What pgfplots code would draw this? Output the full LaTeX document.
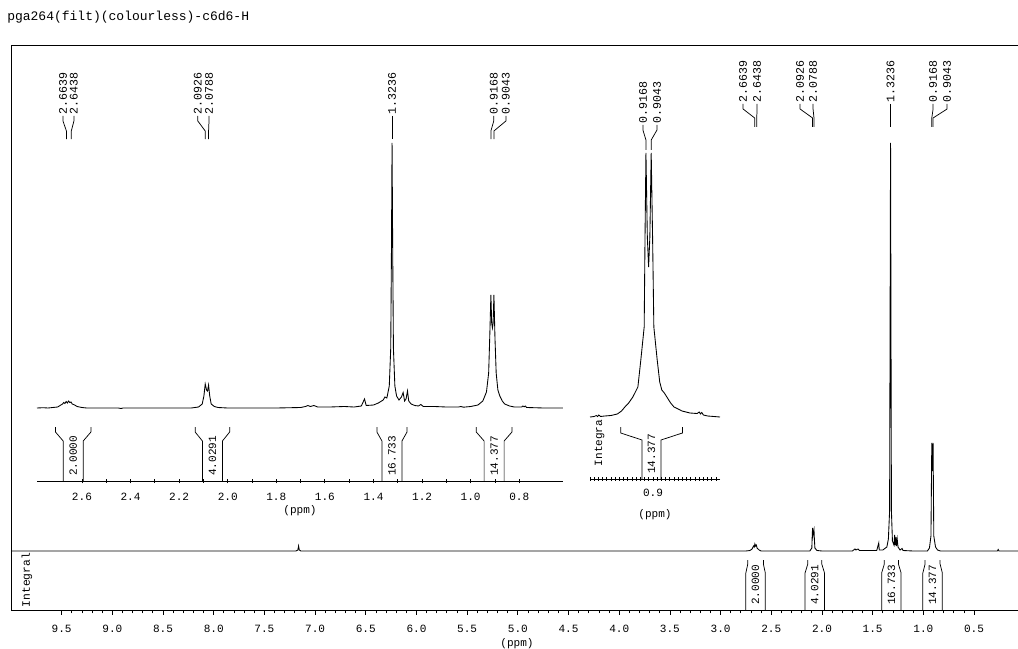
\documentclass[border=0pt]{standalone}
\usepackage{pgfplots}
\pgfplotsset{compat=1.18}
\usepackage{fontspec}
\setmainfont{Liberation Mono}

\newcommand\ttsize[1]{\fontsize{#1}{#1}\selectfont}

% integral bracket: #1,#2 integration limits (ppm), #3 centre (ppm), #4 half width of the
% label box, #5 value, #6 top, #7 end of hook, #8 end of slant, #9 base line
\newcommand\intbracket[9]{%
  \draw[line width=0.55pt] (axis cs:#1,#6) -- (axis cs:#1,#7) -- ([xshift=-#4]axis cs:#3,#8) -- ([xshift=-#4]axis cs:#3,#9);
  \draw[line width=0.55pt] (axis cs:#2,#6) -- (axis cs:#2,#7) -- ([xshift=#4]axis cs:#3,#8) -- ([xshift=#4]axis cs:#3,#9);
  \node[rotate=90, anchor=west, inner sep=0pt, font=\ttsize{8.3pt}] at ([yshift=3.75pt]axis cs:#3,#9) {#5};
}

% peak label: #1 label position, #2 peak position (ppm), #3 text, #4..#7 connector levels
\newcommand\peaklabel[7]{%
  \draw[line width=0.55pt] (axis cs:#1,#4) -- (axis cs:#1,#5) -- (axis cs:#2,#6) -- (axis cs:#2,#7);
  \node[rotate=90, anchor=west, inner sep=0.8pt, font=\ttsize{8.7pt}] at (axis cs:#1,#4) {#3};
}

\pgfplotsset{
  nmr/.style={
    scale only axis, anchor=south west, x dir=reverse, clip=false,
    tick align=outside, ytick=\empty,
    major tick length=3.4pt, minor tick length=2.6pt,
    every tick/.style={black, line width=0.6pt},
    xticklabel style={font=\ttsize{8.3pt}, /pgf/number format/.cd, fixed, fixed zerofill, precision=1, assume math mode=true},
    xlabel style={font=\ttsize{8.3pt}},
    xlabel={(ppm)},
  },
  spec/.style={black, line width=0.65pt, mark=none},
}

\begin{document}
\begin{tikzpicture}
\useasboundingbox (0,0) rectangle (763.5pt,-486.75pt);
\node[anchor=west, inner sep=0pt, font=\ttsize{9.75pt}] at (5.25pt,-12.75pt) {pga264(filt)(colourless)-c6d6-H};

% ---------------- full spectrum ----------------
\begin{axis}[nmr,
  at={(9pt,-457.5pt)}, width=757.5pt, height=423pt,
  xmin=0.027, xmax=9.99, ymin=-59, ymax=505,
  axis line style={line width=0.75pt},
  xtick={0.5,1.0,...,9.5}, minor x tick num=4, xtick pos=bottom,
  xticklabel shift=4.5pt, xlabel style={yshift=2.6pt},
]
\addplot[spec] coordinates {
  (9.99,0) (7.19,0) (7.17,1) (7.163,5) (7.156,1) (7.14,0)
  (2.75,0) (2.71,0.5) (2.69,2) (2.675,5) (2.668,4) (2.662,7) (2.655,5) (2.648,6) (2.64,3) (2.62,1) (2.60,0)
  (2.12,0) (2.10,3) (2.096,16) (2.0926,23) (2.088,16) (2.0788,21) (2.075,12) (2.07,3) (2.05,0.5) (2.0,0)
  (1.70,0) (1.675,2) (1.665,1) (1.645,2) (1.63,0.5) (1.55,0.5) (1.46,0.5) (1.44,8) (1.435,1) (1.40,1)
  (1.36,4) (1.345,12) (1.333,40) (1.3236,408) (1.315,40) (1.305,10) (1.29,6) (1.283,16) (1.278,6)
  (1.27,14) (1.266,5) (1.258,12) (1.25,4) (1.23,1) (1.21,2.5) (1.20,0.5) (1.10,0)
  (0.96,0) (0.94,3) (0.925,15) (0.9168,108) (0.911,80) (0.9043,108) (0.897,15) (0.88,4) (0.86,1) (0.83,0)
  (0.27,0) (0.262,1.5) (0.255,0) (0.027,0)
};
% axis frame top edge
\draw[line width=0.75pt] (axis cs:9.99,505) -- (axis cs:0.027,505);
\node[rotate=90, font=\ttsize{8.5pt}, inner sep=0pt] at (axis cs:9.842,-29) {Integral};
\intbracket{2.732}{2.578}{2.655}{7.3pt}{2.0000}{-9}{-13}{-22}{-59}
\intbracket{2.140}{2.002}{2.071}{7.3pt}{4.0291}{-9}{-13}{-22}{-59}
\intbracket{1.385}{1.246}{1.3155}{7.3pt}{16.733}{-9}{-13}{-22}{-59}
\intbracket{0.983}{0.835}{0.909}{7.3pt}{14.377}{-9}{-13}{-22}{-59}
\peaklabel{2.778}{2.6639}{2.6639}{447}{442}{433}{424}
\peaklabel{2.640}{2.6438}{2.6438}{447}{442}{433}{424}
\peaklabel{2.216}{2.0926}{2.0926}{447}{442}{433}{424}
\peaklabel{2.088}{2.0788}{2.0788}{447}{442}{433}{424}
\peaklabel{1.3236}{1.3236}{1.3236}{447}{442}{433}{424}
\peaklabel{0.904}{0.9168}{0.9168}{447}{442}{433}{424}
\peaklabel{0.766}{0.9043}{0.9043}{447}{442}{433}{424}
\end{axis}

% ---------------- expansion 2.8 - 0.6 ppm ----------------
\begin{axis}[nmr,
  at={(27.75pt,-360.75pt)}, width=394.5pt, height=326.25pt,
  xmin=0.62, xmax=2.785, ymin=-73, ymax=362,
  axis x line=bottom, axis y line=none, axis line style={-, line width=0.75pt},
  xtick={0.8,1.0,...,2.6}, minor x tick num=1,
  xticklabel shift=3.75pt, xlabel style={yshift=3pt},
]
\addplot[spec] coordinates {
  (2.785,0) (2.76,0.3) (2.74,0) (2.72,0.5) (2.70,1) (2.69,2.5) (2.68,4) (2.675,5.5) (2.67,4.5) (2.665,6.5)
  (2.66,5) (2.655,7) (2.65,5.5) (2.645,6) (2.64,4) (2.63,3) (2.62,1.5) (2.60,0.5) (2.58,0)
  (2.45,0) (2.44,-0.5) (2.43,0) (2.15,0) (2.12,1) (2.105,4) (2.098,12) (2.0926,24) (2.087,18) (2.083,17)
  (2.0788,23) (2.074,12) (2.068,4) (2.055,1.5) (2.04,0.5) (2.0,0)
  (1.80,0) (1.70,0.5) (1.68,1.5) (1.67,2.5) (1.66,1.5) (1.645,2.5) (1.63,1) (1.58,1) (1.52,1.5) (1.48,1)
  (1.45,2) (1.437,9) (1.43,2.5) (1.40,3) (1.38,5) (1.36,8) (1.353,11) (1.345,10) (1.335,22) (1.329,60)
  (1.326,160) (1.3236,265) (1.321,160) (1.318,60) (1.312,22) (1.305,12) (1.295,8) (1.285,11) (1.278,15.5)
  (1.272,7) (1.266,9) (1.26,17) (1.255,7) (1.245,4) (1.23,2.5) (1.215,2) (1.205,3.5) (1.195,1.5)
  (1.15,1.5) (1.10,1) (1.05,1) (1.04,1.5) (1.03,0.8) (1.00,1.5) (0.97,3) (0.95,7) (0.935,16) (0.926,35)
  (0.921,75) (0.9168,113) (0.9135,85) (0.9105,80) (0.9075,85) (0.9043,113) (0.900,70) (0.895,35)
  (0.888,18) (0.88,12) (0.87,7) (0.86,4) (0.84,2) (0.82,1) (0.79,1) (0.785,2) (0.78,1.2) (0.775,2)
  (0.77,0.5) (0.74,0.3) (0.70,0) (0.62,0)
};
\intbracket{2.709}{2.563}{2.636}{7.5pt}{2.0000}{-19}{-24}{-33}{-73}
\intbracket{2.134}{1.992}{2.063}{7.5pt}{4.0291}{-19}{-24}{-33}{-73}
\intbracket{1.386}{1.262}{1.324}{7.5pt}{16.733}{-19}{-24}{-33}{-73}
\intbracket{0.977}{0.830}{0.9035}{7.5pt}{14.377}{-19}{-24}{-33}{-73}
\peaklabel{2.678}{2.6639}{2.6639}{292}{287}{277}{269}
\peaklabel{2.633}{2.6438}{2.6438}{292}{287}{277}{269}
\peaklabel{2.123}{2.0926}{2.0926}{292}{287}{277}{269}
\peaklabel{2.077}{2.0788}{2.0788}{292}{287}{277}{269}
\peaklabel{1.3236}{1.3236}{1.3236}{292}{287}{277}{269}
\peaklabel{0.905}{0.9168}{0.9168}{292}{287}{277}{269}
\peaklabel{0.855}{0.9043}{0.9043}{292}{287}{277}{269}
\end{axis}

% ---------------- expansion of the doublet near 0.9 ppm ----------------
\begin{axis}[nmr,
  at={(442.5pt,-359.25pt)}, width=97.5pt, height=244.5pt,
  xmin=0.7405, xmax=1.05, ymin=-62, ymax=264,
  restrict y to domain*=-62:264,
  axis x line=bottom, axis y line=none, axis line style={-, line width=0.75pt},
  xtick={0.8,0.85,0.9,0.95,1.0}, xticklabels={,,0.9,,},
  minor xtick={0.75,0.76,...,1.045},
  xticklabel shift=2.25pt, xlabel style={yshift=-3pt},
]
\addplot[spec] coordinates {
  (1.05,0) (1.04,0.5) (1.035,1.5) (1.032,0.5) (1.029,2) (1.025,0.5) (1.015,1) (1.0,1.5) (0.985,3)
  (0.975,6) (0.967,10) (0.958,14) (0.948,20) (0.936,30) (0.929,57) (0.921,90) (0.919,180) (0.9168,400)
  (0.9135,180) (0.9105,150) (0.9075,180) (0.9043,400) (0.901,180) (0.898,90) (0.890,57) (0.884,35)
  (0.879,27) (0.873,24) (0.867,20) (0.858,14) (0.85,10) (0.84,8) (0.831,6) (0.812,4) (0.795,3.5)
  (0.79,5) (0.787,3) (0.784,4.5) (0.78,2) (0.77,1) (0.755,0.5) (0.7405,0)
};
\node[rotate=90, font=\ttsize{8.3pt}, inner sep=0pt] at (axis cs:1.027,-26) {Integra};
\intbracket{0.977}{0.830}{0.9035}{7.1pt}{14.377}{-10}{-16}{-23}{-62}
\peaklabel{0.924}{0.9168}{0.9168}{292}{287}{277}{267}
\peaklabel{0.8905}{0.9043}{0.9043}{292}{287}{277}{267}
\end{axis}
\end{tikzpicture}
\end{document}
